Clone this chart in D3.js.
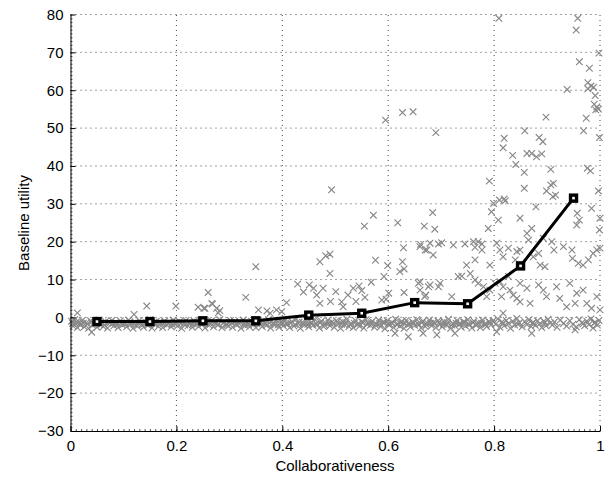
<!DOCTYPE html>
<html>
<head>
<meta charset="utf-8">
<script src="https://cdn.jsdelivr.net/npm/d3@7"></script>
<style>
body { margin: 0; background: #fff; }
text { font-family: "Liberation Sans", Arial, sans-serif; }
</style>
</head>
<body>
<svg width="612" height="480"></svg>
<script>
// binned averages (black line)
var binX = [0.05, 0.15, 0.25, 0.35, 0.45, 0.55, 0.65, 0.75, 0.85, 0.95];
var binY = [-1.1, -1.1, -0.9, -0.9, 0.6, 1.1, 3.9, 3.6, 13.6, 31.5];

var xTicks = [0, 0.2, 0.4, 0.6, 0.8, 1];
var yTicks = [-30, -20, -10, 0, 10, 20, 30, 40, 50, 60, 70, 80];

// raw samples, the dense strip just under zero
var bandA = [[0.002,-1.0],[0.005,-2.3],[0.008,-0.6],[0.010,-1.7],[0.013,-2.7],[0.016,-1.2],[0.019,-2.0],[0.022,-0.8],[0.026,-2.5],[0.030,-1.4],[0.034,-2.9],[0.038,-0.9],[0.042,-2.1],[0.046,-1.6],[0.050,-2.6],[0.054,-0.7],[0.058,-1.9],[0.062,-2.4],[0.066,-1.1],[0.070,-2.8],[0.074,-1.5],[0.078,-0.8],[0.082,-2.2],[0.086,-1.3],[0.090,-2.7],[0.094,-0.9],[0.098,-2.0],[0.102,-1.6],[0.106,-2.5],[0.110,-0.7],[0.114,-1.8],[0.118,-2.9],[0.122,-1.2],[0.126,-2.3],[0.130,-0.8],[0.134,-1.9],[0.138,-2.6],[0.142,-1.4],[0.146,-2.1],[0.150,-0.6],[0.154,-2.8],[0.158,-1.7],[0.162,-1.0],[0.166,-2.4],[0.170,-1.5],[0.174,-2.7],[0.178,-0.9],[0.182,-2.0],[0.186,-1.3],[0.190,-2.5],[0.194,-0.7],[0.198,-1.8],[0.202,-2.3],[0.206,-1.1],[0.210,-2.9],[0.214,-1.6],[0.218,-0.8],[0.222,-2.2],[0.226,-1.4],[0.230,-2.6],[0.234,-1.0],[0.238,-1.9],[0.242,-2.4],[0.246,-0.7],[0.250,-1.7],[0.254,-2.8],[0.258,-1.2],[0.262,-2.1],[0.266,-0.9],[0.270,-2.5],[0.274,-1.5],[0.278,-2.0],[0.282,-0.6],[0.286,-2.7],[0.290,-1.3],[0.294,-1.8],[0.298,-2.3],[0.302,-0.8],[0.306,-2.6],[0.310,-1.1],[0.314,-2.0],[0.318,-1.6],[0.322,-2.9],[0.326,-0.7],[0.330,-2.2],[0.334,-1.4],[0.338,-2.5],[0.342,-1.0],[0.346,-1.9],[0.350,-2.7],[0.354,-0.8],[0.358,-1.7],[0.362,-2.4],[0.366,-1.2],[0.370,-2.1],[0.374,-0.6],[0.378,-2.8],[0.382,-1.5],[0.386,-2.0],[0.390,-0.9],[0.394,-2.6],[0.398,-1.3]];
var bandB = [[0.402,-2.2],[0.406,-0.7],[0.410,-1.8],[0.414,-2.7],[0.418,-1.1],[0.422,-2.3],[0.426,-0.5],[0.430,-1.6],[0.434,-2.9],[0.438,-1.3],[0.442,-2.0],[0.446,-0.8],[0.450,-2.5],[0.454,-1.4],[0.458,-2.1],[0.462,-0.6],[0.466,-1.9],[0.470,-2.8],[0.474,-1.0],[0.478,-2.4],[0.482,-1.5],[0.486,-0.7],[0.490,-2.2],[0.494,-1.2],[0.498,-2.6],[0.502,-0.9],[0.506,-1.7],[0.510,-2.9],[0.514,-1.1],[0.518,-2.0],[0.522,-0.5],[0.526,-2.4],[0.530,-1.6],[0.534,-2.7],[0.538,-0.8],[0.542,-1.9],[0.546,-2.3],[0.550,-1.2],[0.554,-2.8],[0.558,-0.6],[0.562,-1.5],[0.566,-2.1],[0.570,-1.0],[0.574,-2.6],[0.578,-1.7],[0.582,-0.7],[0.586,-2.4],[0.590,-1.3],[0.594,-3.0],[0.598,-0.9],[0.602,-2.0],[0.606,-1.4],[0.610,-2.7],[0.614,-0.5],[0.618,-1.8],[0.622,-2.3],[0.626,-1.1],[0.630,-2.9],[0.634,-0.8],[0.638,-1.6],[0.642,-2.5],[0.646,-1.2],[0.650,-2.1],[0.654,-0.6],[0.658,-1.9],[0.662,-2.8],[0.666,-1.0],[0.670,-2.4],[0.674,-1.5],[0.678,-0.7],[0.682,-2.2],[0.686,-1.3],[0.690,-2.7],[0.694,-0.9],[0.698,-1.8],[0.702,-2.5],[0.706,-1.1],[0.710,-2.0],[0.714,-0.5],[0.718,-2.9],[0.722,-1.6],[0.726,-2.2],[0.730,-0.8],[0.734,-1.7],[0.738,-2.6],[0.742,-1.2],[0.746,-2.3],[0.750,-0.6],[0.754,-1.9],[0.758,-2.8],[0.762,-1.0],[0.766,-2.1],[0.770,-1.4],[0.774,-2.7],[0.778,-0.7],[0.782,-1.8],[0.786,-2.4],[0.790,-1.1],[0.794,-2.0],[0.798,-0.9]];
var bandC = [[0.803,-1.8],[0.807,-0.4],[0.811,-2.6],[0.815,-1.2],[0.819,-2.2],[0.823,-0.8],[0.827,-1.6],[0.831,-2.9],[0.835,-1.0],[0.839,-2.0],[0.843,-0.3],[0.848,-1.4],[0.853,-2.5],[0.858,-1.1],[0.862,-1.9],[0.866,-0.6],[0.870,-2.4],[0.874,-1.3],[0.878,-2.1],[0.882,-0.9],[0.886,-1.7],[0.890,-2.7],[0.894,-1.0],[0.898,-2.2],[0.902,-0.5],[0.906,-1.5],[0.910,-2.0],[0.914,-1.2],[0.919,-2.6],[0.925,-0.7],[0.931,-1.6],[0.937,-2.3],[0.943,-0.9],[0.949,-1.8],[0.955,-2.5],[0.961,-0.6],[0.966,-1.4],[0.971,-2.2],[0.975,-1.0],[0.979,-1.9],[0.983,-0.4],[0.987,-2.8],[0.991,-1.3],[0.995,-2.0],[0.998,-0.8]];
// second pass over the strip, the middle rows
var bandD = [[0.004,-1.6],[0.011,-1.3],[0.018,-1.9],[0.024,-1.5],[0.032,-1.8],[0.040,-1.2],[0.048,-1.7],[0.056,-1.4],[0.064,-2.0],[0.072,-1.3],[0.080,-1.6],[0.088,-1.9],[0.096,-1.4],[0.104,-1.7],[0.112,-1.2],[0.120,-1.8],[0.128,-1.5],[0.136,-2.0],[0.144,-1.3],[0.152,-1.6],[0.160,-1.9],[0.168,-1.2],[0.176,-1.7],[0.184,-1.5],[0.192,-1.8],[0.200,-1.3],[0.208,-1.6],[0.216,-2.0],[0.224,-1.4],[0.232,-1.7],[0.240,-1.2],[0.248,-1.9],[0.256,-1.5],[0.264,-1.6],[0.272,-1.3],[0.280,-1.8],[0.288,-1.5],[0.296,-2.0],[0.304,-1.4],[0.312,-1.7],[0.320,-1.2],[0.328,-1.6],[0.336,-1.9],[0.344,-1.4],[0.352,-1.7],[0.360,-1.3],[0.368,-1.8],[0.376,-1.5],[0.384,-1.6],[0.392,-2.0],[0.400,-1.3],[0.408,-1.7],[0.416,-1.5],[0.424,-1.9],[0.432,-1.2],[0.440,-1.6],[0.448,-1.8],[0.456,-1.4],[0.464,-1.7],[0.472,-1.3],[0.480,-2.0],[0.488,-1.5],[0.496,-1.6],[0.504,-1.2],[0.512,-1.8],[0.520,-1.4],[0.528,-1.9],[0.536,-1.5],[0.544,-1.6],[0.552,-1.3],[0.560,-1.8],[0.568,-1.4],[0.576,-2.0],[0.584,-1.6],[0.592,-1.2],[0.600,-1.7],[0.608,-1.5],[0.616,-1.9],[0.624,-1.3],[0.632,-1.6],[0.640,-1.8],[0.648,-1.4],[0.656,-1.7],[0.664,-1.2],[0.672,-1.9],[0.680,-1.5],[0.688,-1.6],[0.696,-1.3],[0.704,-1.8],[0.712,-1.4],[0.720,-2.0],[0.728,-1.5],[0.736,-1.6],[0.744,-1.2],[0.752,-1.8],[0.760,-1.4],[0.768,-1.7],[0.776,-1.5],[0.784,-1.9],[0.792,-1.3],[0.817,-1.5],[0.845,-1.8],[0.872,-1.6],[0.896,-1.4],[0.968,-1.7],[0.989,-1.5]];

// raw samples off the strip
var spreadPts = [[0.809,79.0],[0.958,79.0],[0.955,75.9],[0.998,69.8],[0.961,67.5],[0.980,65.8],[0.938,60.2],[0.977,62.0],[0.983,61.1],[0.988,60.8],[0.977,60.4],[0.991,58.6],[0.989,56.3],[0.994,55.6],[0.997,55.0],[0.992,54.8],[0.898,52.9],[0.974,52.6],[0.969,49.3],[0.999,47.5],[0.627,54.1],[0.647,54.3],[0.595,52.1],[0.690,48.8],[0.819,47.3],[0.817,44.8],[0.858,49.3],[0.885,47.5],[0.892,46.4],[0.835,42.8],[0.862,43.3],[0.871,43.3],[0.880,42.4],[0.890,43.2],[0.841,40.4],[0.857,38.3],[0.907,39.1],[0.976,39.4],[0.982,38.7],[0.791,36.0],[0.857,34.1],[0.912,35.4],[0.907,35.0],[0.899,33.4],[0.911,31.9],[0.997,33.4],[0.819,31.3],
  [0.493,33.7],[0.572,27.0],[0.555,24.1],[0.618,25.0],[0.684,27.7],[0.668,24.1],[0.688,23.3],[0.629,18.4],[0.661,19.3],[0.673,17.8],[0.685,16.5],[0.695,19.4],[0.471,14.7],[0.482,16.3],[0.490,16.7],[0.576,15.1],[0.599,13.7],[0.627,14.7],[0.622,12.1],[0.630,12.8],[0.490,11.6],[0.592,10.8],[0.429,8.8],[0.440,6.7],[0.451,8.6],[0.459,7.7],[0.465,5.9],[0.477,7.7],[0.501,6.8],[0.491,4.2],[0.515,2.8],[0.534,7.7],[0.545,8.3],[0.550,7.1],[0.524,5.9],[0.539,4.2],[0.556,5.3],[0.568,9.3],[0.588,4.6],[0.596,4.8],[0.601,6.4],[0.630,6.6],[0.657,9.0],[0.660,7.2],[0.671,5.9],[0.679,8.6],[0.695,8.1],[0.371,1.7],[0.389,2.0],[0.408,3.9],[0.396,-0.7],[0.638,-5.1],[0.692,-4.6],
  [0.013,1.2],[0.040,-3.9],[0.120,0.8],[0.144,3.0],[0.199,3.0],[0.260,6.6],[0.268,3.5],[0.276,2.4],[0.282,1.8],[0.252,2.4],[0.331,5.3],[0.350,13.4],[0.267,3.7],[0.254,2.4],[0.279,1.2],[0.377,1.1],[0.399,1.5],[0.241,2.7],[0.355,2.0],[0.471,3.7],[0.512,4.1],
  [0.916,32.3],[0.810,31.0],[0.821,30.8],[0.799,30.1],[0.795,27.9],[0.808,25.7],[0.789,23.5],[0.849,26.2],[0.879,29.2],[0.957,27.5],[0.961,25.7],[0.956,24.4],[0.984,28.8],[1.0,26.2],[0.999,23.1],
  [0.660,18.7],[0.679,19.6],[0.701,19.7],[0.723,19.1],[0.745,19.4],[0.761,20.0],[0.770,20.0],[0.777,19.4],[0.764,18.5],[0.805,19.6],[0.670,17.8],[0.748,13.8],[0.764,15.2],[0.792,13.8],[0.777,17.8],[0.811,17.8],[0.817,16.0],[0.827,18.3],[0.843,17.4],[0.840,15.2],[0.849,17.8],[0.862,22.2],[0.871,23.5],[0.865,20.4],[0.874,16.0],[0.884,16.9],[0.893,20.9],[0.909,20.0],[0.913,17.8],[0.887,13.8],[0.896,13.4],[0.948,15.6],[0.959,14.3],[0.968,13.8],[0.978,15.2],[0.987,16.9],[0.994,17.8],[1.0,18.3],[0.931,18.7],[0.947,17.8],
  [0.660,9.4],[0.676,8.1],[0.669,5.5],[0.698,9.0],[0.732,10.8],[0.739,10.9],[0.720,5.5],[0.755,11.6],[0.764,9.9],[0.770,9.0],[0.780,8.1],[0.792,7.2],[0.786,5.5],[0.802,9.0],[0.811,9.4],[0.817,8.1],[0.827,10.8],[0.830,7.2],[0.814,5.5],[0.836,5.9],[0.843,5.0],[0.849,9.0],[0.862,7.7],[0.849,4.1],[0.868,3.7],[0.884,8.6],[0.893,7.2],[0.899,5.5],[0.918,8.1],[0.924,5.0],[0.943,9.0],[0.956,6.4],[0.968,7.2],[0.975,3.7],[0.953,3.7],[0.994,5.5],[0.984,2.4],[1.0,2.0],
  [0.666,-4.2],[0.613,-4.2],[0.871,-4.2],[0.805,-3.8],[0.953,-3.3],[0.726,-4.2],[0.937,2.8],[0.817,1.1]];

var svg = d3.select('svg');

var x = d3.scaleLinear().domain([0, 1]).range([70.5, 600]);
var y = d3.scaleLinear().domain([-30, 80]).range([431, 14.5]);

var fmt = d3.format('~g');

// dotted grid
svg.append('g')
    .selectAll('line')
    .data(xTicks.slice(1))
    .enter().append('line')
    .attr('x1', d => x(d)).attr('x2', d => x(d))
    .attr('y1', y(-30)).attr('y2', y(80))
    .style('stroke', '#444')
    .style('stroke-dasharray', '1,4');

svg.append('g')
    .selectAll('line')
    .data(yTicks.slice(1))
    .enter().append('line')
    .attr('x1', x(0)).attr('x2', x(1))
    .attr('y1', d => y(d)).attr('y2', d => y(d))
    .style('stroke', '#444')
    .style('stroke-dasharray', '1,4');

// samples as grey crosses
var allPts = bandA.concat(bandB, bandC, bandD, spreadPts);
svg.append('g')
    .selectAll('path')
    .data(allPts)
    .enter().append('path')
    .attr('transform', d => 'translate(' + x(d[0]) + ',' + y(d[1]) + ')')
    .attr('d', 'M-3.3,-3.3L3.3,3.3M-3.3,3.3L3.3,-3.3')
    .style('fill', 'none')
    .style('stroke', '#888')
    .style('stroke-width', 1.15);

// averages
var line = d3.line()
    .x((d, i) => x(binX[i]))
    .y(d => y(d));

svg.append('path')
    .datum(binY)
    .attr('d', line)
    .style('fill', 'none')
    .style('stroke', 'black')
    .style('stroke-width', 3);

svg.append('g')
    .selectAll('rect')
    .data(binY)
    .enter().append('rect')
    .attr('x', (d, i) => x(binX[i]) - 3)
    .attr('y', d => y(d) - 3)
    .attr('width', 6)
    .attr('height', 6)
    .style('fill', 'white')
    .style('stroke', 'black')
    .style('stroke-width', 3.4);

// axes, ticks pointing inward like matlab
var yMinor = d3.range(-30, 81, 1);
var xMinor = d3.range(0, 1.0001, 0.01);

svg.append('g')
    .attr('transform', 'translate(' + x(0) + ',0)')
    .call(d3.axisLeft(y).tickValues(yMinor).tickSize(-2).tickFormat(''))
    .call(g => g.select('.domain').remove())
    .selectAll('line').style('stroke', '#555');

svg.append('g')
    .attr('transform', 'translate(0,' + y(-30) + ')')
    .call(d3.axisBottom(x).tickValues(xMinor).tickSize(-2).tickFormat(''))
    .call(g => g.select('.domain').remove())
    .selectAll('line').style('stroke', '#555');

var yAxis = svg.append('g')
    .attr('transform', 'translate(' + x(0) + ',0)')
    .call(d3.axisLeft(y).tickValues(yTicks).tickSizeInner(-5).tickSizeOuter(0).tickPadding(7).tickFormat(fmt));

var xAxis = svg.append('g')
    .attr('transform', 'translate(0,' + y(-30) + ')')
    .call(d3.axisBottom(x).tickValues(xTicks).tickSizeInner(-5).tickSizeOuter(0).tickPadding(9).tickFormat(fmt));

[yAxis, xAxis].forEach(function (a) {
    a.selectAll('text')
        .style('font-family', '"Liberation Sans", Arial, sans-serif')
        .style('font-size', '15px')
        .style('fill', 'black');
    a.selectAll('line').style('stroke', 'black');
    a.select('.domain').style('stroke', 'black');
});

svg.append('text')
    .text('Collaborativeness')
    .attr('x', 335)
    .attr('y', 471)
    .attr('text-anchor', 'middle')
    .style('font-size', '15px');

svg.append('text')
    .text('Baseline utility')
    .attr('transform', 'translate(29,223) rotate(-90)')
    .attr('text-anchor', 'middle')
    .style('font-size', '15px');
</script>
</body>
</html>
